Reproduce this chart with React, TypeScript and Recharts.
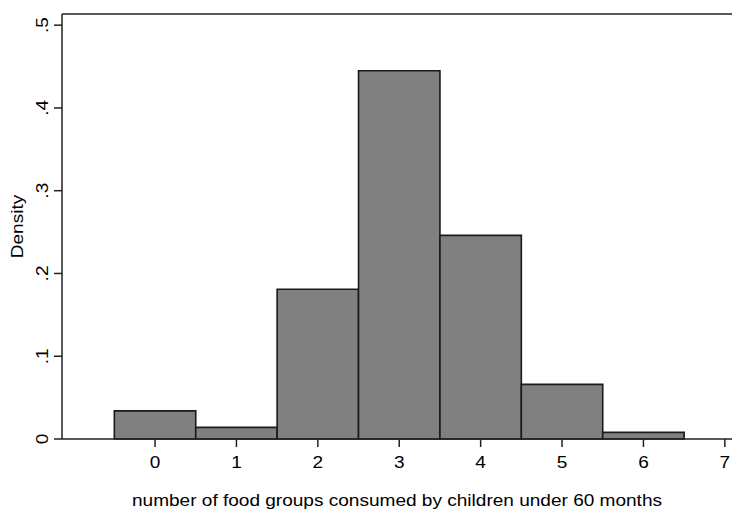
import React from 'react';
import {
  ComposedChart,
  Line,
  XAxis,
  YAxis,
  ReferenceArea,
  ReferenceLine,
  Label,
} from 'recharts';

const binCenters = [0, 1, 2, 3, 4, 5, 6];
const densities = [0.034, 0.014, 0.181, 0.445, 0.246, 0.066, 0.008];
const xTicks = [0, 1, 2, 3, 4, 5, 6, 7];
const yTicks = [0, 0.1, 0.2, 0.3, 0.4, 0.5];
const yTickLabels = ['0', '.1', '.2', '.3', '.4', '.5'];
const xTitle = 'number of food groups consumed by children under 60 months';
const yTitle = 'Density';

const xDomain: [number, number] = [-1.143, 7.088];
const yDomain: [number, number] = [0, 0.5135];

const data = binCenters.map((c, i) => ({ x: c, density: densities[i] }));

const FONT = '"Liberation Sans", Arial, Helvetica, sans-serif';
const AXIS = '#222222';
const SX = 1.19;

const XTick = (props: any) => {
  const { x, y, payload } = props;
  return (
    <text
      transform={`translate(${x}, ${y + 19}) scale(${SX}, 1)`}
      textAnchor="middle"
      fontFamily={FONT}
      fontSize={16}
      fill="#000"
    >
      {String(payload.value)}
    </text>
  );
};

const YTick = (props: any) => {
  const { x, y, payload } = props;
  const idx = yTicks.findIndex((t) => Math.abs(t - payload.value) < 1e-9);
  const lab = idx >= 0 ? yTickLabels[idx] : String(payload.value);
  const bx = x - 4.5;
  return (
    <text
      transform={`translate(${bx}, ${y}) rotate(-90) scale(${SX}, 1)`}
      textAnchor="middle"
      fontFamily={FONT}
      fontSize={16}
      fill="#000"
    >
      {lab}
    </text>
  );
};

export default function App() {
  return (
    <div style={{ position: 'absolute', left: 0, top: 0, background: '#fff' }}>
      <ComposedChart
        width={732}
        height={510}
        data={data}
        margin={{ top: 14, right: 0, bottom: 0, left: 0 }}
      >
        <XAxis
          dataKey="x"
          type="number"
          domain={xDomain}
          allowDataOverflow
          ticks={xTicks}
          interval={0}
          height={71}
          tickSize={8}
          tickMargin={2}
          axisLine={{ stroke: AXIS, strokeWidth: 1.5 }}
          tickLine={{ stroke: AXIS, strokeWidth: 1.5 }}
          tick={<XTick />}
        >
          <Label
            content={(p: any) => {
              const vb = p.viewBox || {};
              const cx = vb.x + vb.width / 2;
              return (
                <text
                  transform={`translate(${cx}, 505.5) scale(${SX}, 1)`}
                  textAnchor="middle"
                  fontFamily={FONT}
                  fontSize={16}
                  fill="#000"
                >
                  {xTitle}
                </text>
              );
            }}
          />
        </XAxis>
        <YAxis
          type="number"
          domain={yDomain}
          allowDataOverflow
          ticks={yTicks}
          interval={0}
          width={62}
          tickSize={8}
          tickMargin={2}
          axisLine={{ stroke: AXIS, strokeWidth: 1.5 }}
          tickLine={{ stroke: AXIS, strokeWidth: 1.5 }}
          tick={<YTick />}
        >
          <Label
            content={(p: any) => {
              const vb = p.viewBox || {};
              const cy = vb.y + vb.height / 2;
              return (
                <text
                  transform={`translate(22.5, ${cy}) rotate(-90) scale(${SX}, 1)`}
                  textAnchor="middle"
                  fontFamily={FONT}
                  fontSize={16}
                  fill="#000"
                >
                  {yTitle}
                </text>
              );
            }}
          />
        </YAxis>
        {data.map((d) => (
          <ReferenceArea
            key={d.x}
            x1={d.x - 0.5}
            x2={d.x + 0.5}
            y1={0}
            y2={d.density}
            fill="#808080"
            fillOpacity={1}
            stroke="#1a1a1a"
            strokeWidth={1.6}
            ifOverflow="visible"
          />
        ))}
        <ReferenceLine
          y={yDomain[1]}
          stroke={AXIS}
          strokeWidth={1.5}
          ifOverflow="visible"
        />
        <Line
          dataKey="density"
          stroke="none"
          dot={false}
          activeDot={false}
          isAnimationActive={false}
          legendType="none"
        />
      </ComposedChart>
    </div>
  );
}
